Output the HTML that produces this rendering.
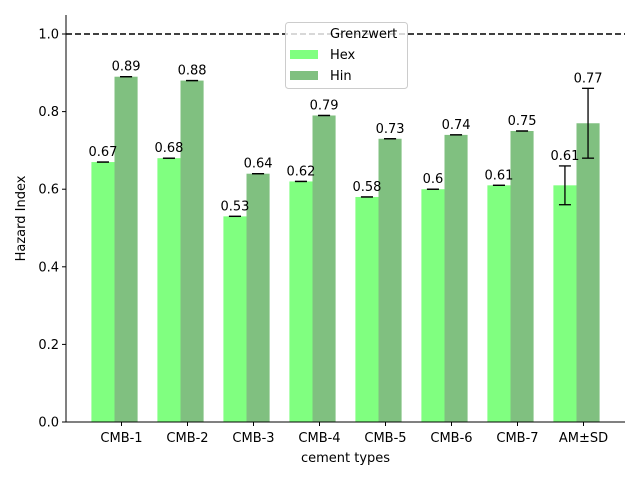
<!DOCTYPE html>
<html><head><meta charset="utf-8"><style>body{margin:0;background:#fff}svg{font-family:"DejaVu Sans","Liberation Sans",sans-serif}</style></head>
<body>
<svg id="c" width="640" height="480"></svg>
<script>
const categories=["CMB-1","CMB-2","CMB-3","CMB-4","CMB-5","CMB-6","CMB-7","AM±SD"];
const hexValues=[0.67,0.68,0.53,0.62,0.58,0.6,0.61,0.61];
const hinValues=[0.89,0.88,0.64,0.79,0.73,0.74,0.75,0.77];
const hexErr=[0,0,0,0,0,0,0,0.05];
const hinErr=[0,0,0,0,0,0,0,0.09];
const hexLabels=["0.67","0.68","0.53","0.62","0.58","0.6","0.61","0.61"];
const hinLabels=["0.89","0.88","0.64","0.79","0.73","0.74","0.75","0.77"];
const yTicks=[0,0.2,0.4,0.6,0.8,1.0];
const yTickLabels=["0.0","0.2","0.4","0.6","0.8","1.0"];
const threshold=1.0;
const NS="http://www.w3.org/2000/svg";
const svg=document.getElementById('c');
const L=66,R=625,T=15,B=422;
const xMin=-0.735,xMax=7.735,yMax=1.049;
const x=v=>L+(v-xMin)/(xMax-xMin)*(R-L);
const y=v=>B-v/yMax*(B-T);
const bw=0.35;
function el(t,a,txt){const e=document.createElementNS(NS,t);for(const k in a)e.setAttribute(k,a[k]);if(txt!==undefined)e.textContent=txt;svg.appendChild(e);return e;}
const pending=[];
function bar(i,v,err,lab,off,col,nm){
 const x0=x(i+off-bw/2),x1=x(i+off+bw/2);
 const r=el('rect',{x:x0,y:y(v),width:x1-x0,height:B-y(v),fill:col});
 
 
 pending.push([i,v,err,lab,(x0+x1)/2,nm]);
}
function decor(i,v,err,lab,cx,nm){
 const g=el('g',{stroke:'#000','stroke-width':1.3});
 
 
 [[cx,y(v-err),cx,y(v+err)],[cx-6,y(v-err),cx+6,y(v-err)],[cx-6,y(v+err),cx+6,y(v+err)]].forEach(p=>{const l=document.createElementNS(NS,'line');l.setAttribute('x1',p[0]);l.setAttribute('y1',p[1]);l.setAttribute('x2',p[2]);l.setAttribute('y2',p[3]);g.appendChild(l);});
 const t=el('text',{x:cx,y:y(v+err)-6,'font-size':13,'text-anchor':'middle',fill:'#000'},lab);
 
 
}
categories.forEach((c,i)=>{
 bar(i,hexValues[i],hexErr[i],hexLabels[i],-bw/2,'#80ff80','hex');
 bar(i,hinValues[i],hinErr[i],hinLabels[i],bw/2,'#80c080','hin');
 const tx=x(i)+7;
 const tk=el('line',{x1:tx,y1:B,x2:tx,y2:B+4,stroke:'#000'});
 
 
 const t=el('text',{x:tx,y:B+20,'font-size':13,'text-anchor':'middle'},c);
 
 
});
pending.forEach(p=>decor(...p));
yTicks.forEach((v,i)=>{
 const tk=el('line',{x1:L-4,y1:y(v),x2:L,y2:y(v),stroke:'#000'});
 
 
 const t=el('text',{x:L-7,y:y(v)+4.5,'font-size':13,'text-anchor':'end'},yTickLabels[i]);
 
 
});
const th=el('line',{x1:L,y1:y(threshold),x2:R,y2:y(threshold),stroke:'#000','stroke-width':1.6,'stroke-dasharray':'6,3'});


const ax=el('path',{d:`M${L},${T}V${B}H${R}`,fill:'none',stroke:'#000','stroke-width':1});


const xt=el('text',{x:(L+R)/2,y:462,'font-size':13,'text-anchor':'middle'},'cement types');


const yt=el('text',{x:0,y:0,'font-size':13,'text-anchor':'middle',transform:`translate(25,${(T+B)/2}) rotate(-90)`},'Hazard Index');


const lg=el('g',{});


const lb=el('rect',{x:285.5,y:22.5,width:122,height:66,rx:3,fill:'rgba(255,255,255,0.8)',stroke:'#ccc'});


const items=[['Grenzwert',null,38],['Hex','#80ff80',59],['Hin','#80c080',80]];
items.forEach(it=>{
 if(it[1]){const p=el('rect',{x:290,y:it[2]-9,width:28,height:9,fill:it[1]});}
 const t=el('text',{x:330,y:it[2],'font-size':13},it[0]);
 
 
});
</script>
</body></html>
